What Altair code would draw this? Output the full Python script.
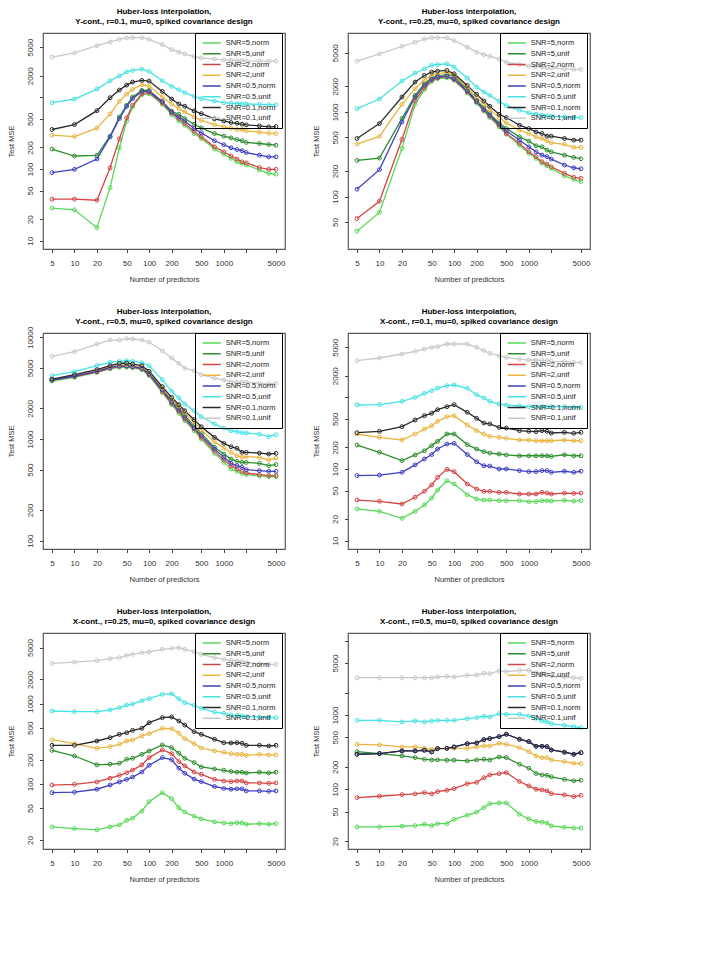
import altair as alt
import pandas as pd

FONT = "Liberation Sans"

# number of predictors on the horizontal axis
N_PRED = [5, 10, 20, 30, 40, 50, 60, 80, 100, 150, 200, 250, 300, 400, 500,
          750, 1000, 1250, 1500, 1750, 2000, 3000, 4000, 5000]

SERIES = ["SNR=5,norm", "SNR=5,unif", "SNR=2,norm", "SNR=2,unif",
          "SNR=0.5,norm", "SNR=0.5,unif", "SNR=0.1,norm", "SNR=0.1,unif"]
COLORS = ["#58d858", "#2f8f2f", "#d64545", "#eab540",
          "#3f3fc4", "#45e3e3", "#2a2a2a", "#c9c9c9"]

X_TICKS = [5, 10, 20, 50, 100, 200, 500, 1000, 2000, 5000]
X_UNLABELLED = [2000]
X_DOMAIN = [3.79, 6600]

# ---- Y-cont., r=0.1 ----
p1_snr5_norm = [28.5, 27, 15.2, 55, 198, 464, 734, 1089, 1125, 800, 574, 469, 408, 313, 267, 190, 161, 141, 126, 120, 114, 97, 87, 85]
p1_snr5_unif = [190, 152, 155, 287, 533, 774, 1011, 1251, 1251, 861, 640, 581, 506, 422, 375, 313, 287, 272, 258, 248, 235, 227, 220, 215]
p1_snr2_norm = [38, 38, 36.7, 104, 264, 516, 774, 1125, 1173, 834, 605, 506, 431, 337, 281, 204, 174, 152, 138, 126, 122, 105, 99, 99]
p1_snr2_unif = [297, 284, 371, 587, 879, 1112, 1291, 1499, 1437, 1021, 808, 696, 626, 533, 479, 417, 387, 371, 356, 356, 341, 327, 316, 313]
p1_snr05_norm = [89, 99, 138, 281, 506, 750, 958, 1211, 1211, 879, 626, 533, 469, 367, 320, 248, 218, 198, 187, 180, 170, 156, 148, 148]
p1_snr05_unif = [843, 948, 1306, 1703, 1999, 2271, 2372, 2476, 2296, 1703, 1422, 1277, 1161, 1033, 958, 889, 843, 826, 817, 808, 808, 800, 791, 791]
p1_snr01_norm = [356, 417, 653, 989, 1264, 1483, 1633, 1722, 1686, 1211, 948, 808, 750, 646, 593, 500, 469, 445, 435, 422, 413, 400, 387, 391]
p1_snr01_unif = [3631, 4168, 5270, 5930, 6457, 6740, 6810, 6810, 6457, 5445, 4645, 4266, 4040, 3710, 3556, 3407, 3336, 3300, 3265, 3265, 3230, 3196, 3196, 3196]

# ---- Y-cont., r=0.25 ----
p2_snr5_norm = [39, 65, 371, 1231, 1833, 2296, 2467, 2535, 2360, 1674, 1276, 1028, 858, 666, 546, 405, 324, 283, 247, 232, 215, 175, 160, 150]
p2_snr5_unif = [267, 285, 835, 1570, 2154, 2535, 2653, 2775, 2630, 1833, 1371, 1125, 955, 743, 637, 508, 452, 398, 387, 354, 338, 309, 290, 280]
p2_snr2_norm = [55, 88, 473, 1371, 1932, 2360, 2535, 2630, 2422, 1718, 1312, 1047, 889, 697, 556, 424, 338, 296, 258, 242, 225, 188, 169, 164]
p2_snr2_unif = [417, 513, 1231, 1884, 2399, 2723, 2826, 2956, 2748, 1932, 1475, 1253, 1065, 858, 743, 608, 556, 508, 486, 456, 432, 413, 381, 381]
p2_snr05_norm = [122, 208, 762, 1500, 2059, 2422, 2582, 2630, 2467, 1766, 1334, 1065, 914, 716, 597, 464, 387, 338, 309, 296, 277, 236, 219, 213]
p2_snr05_unif = [1094, 1422, 2317, 2875, 3237, 3573, 3638, 3705, 3384, 2512, 1968, 1718, 1570, 1334, 1188, 1047, 973, 939, 914, 898, 889, 873, 858, 858]
p2_snr01_norm = [485, 729, 1500, 2253, 2700, 2956, 3036, 3093, 2826, 2059, 1614, 1347, 1166, 939, 858, 697, 637, 582, 556, 517, 517, 486, 464, 464]
p2_snr01_unif = [3981, 4853, 5970, 6663, 7230, 7556, 7556, 7494, 6966, 5825, 5083, 4767, 4560, 4205, 3874, 3638, 3478, 3446, 3384, 3323, 3293, 3237, 3179, 3179]

# ---- Y-cont., r=0.5 ----
p3_snr5_norm = [3715, 4045, 4526, 4890, 5070, 5070, 5032, 4808, 4198, 2858, 2176, 1788, 1514, 1208, 1000, 722, 589, 507, 481, 460, 446, 433, 426, 426]
p3_snr5_unif = [3803, 4100, 4636, 5070, 5262, 5262, 5186, 5070, 4426, 3105, 2384, 2003, 1698, 1353, 1137, 828, 712, 635, 603, 589, 589, 576, 547, 560]
p3_snr2_norm = [3803, 4133, 4561, 4990, 5186, 5186, 5106, 4890, 4295, 2945, 2244, 1871, 1574, 1254, 1038, 756, 622, 547, 507, 481, 463, 446, 436, 436]
p3_snr2_unif = [3836, 4198, 4698, 5140, 5343, 5382, 5262, 5070, 4526, 3178, 2455, 2080, 1788, 1458, 1227, 942, 815, 739, 685, 660, 670, 660, 622, 650]
p3_snr05_norm = [3803, 4167, 4636, 5070, 5224, 5224, 5140, 4950, 4356, 3035, 2296, 1929, 1633, 1282, 1079, 798, 660, 576, 547, 526, 499, 488, 481, 481]
p3_snr05_unif = [4198, 4595, 5262, 5673, 5802, 5891, 5802, 5630, 5262, 3836, 2945, 2531, 2209, 1899, 1658, 1405, 1274, 1208, 1181, 1154, 1146, 1119, 1054, 1103]
p3_snr01_norm = [3890, 4295, 4808, 5262, 5550, 5594, 5460, 5262, 4636, 3275, 2572, 2176, 1899, 1550, 1321, 1038, 906, 840, 809, 739, 739, 728, 712, 722]
p3_snr01_unif = [6500, 7228, 8596, 9411, 9411, 9700, 9633, 9411, 8998, 7390, 6265, 5550, 4990, 4698, 4295, 3982, 3803, 3664, 3609, 3609, 3609, 3530, 3476, 3530]

# ---- X-cont., r=0.1 ----
p4_snr5_norm = [27.7, 25.6, 20.5, 25.6, 31.5, 39.4, 50.9, 68.7, 61.8, 43.8, 38.1, 36.9, 36.9, 36.1, 36.1, 36.1, 35.0, 35.0, 36.1, 36.1, 35.7, 36.5, 35.7, 36.1]
p4_snr5_unif = [216, 171, 131, 157, 180, 212, 243, 308, 308, 219, 190, 175, 167, 162, 157, 153, 153, 153, 153, 153, 150, 158, 153, 153]
p4_snr2_norm = [36.9, 35.4, 32.5, 40.3, 48.8, 59.8, 76.5, 98.9, 91.8, 61.8, 52.6, 48.8, 48.8, 47.2, 47.2, 44.8, 44.8, 44.8, 47.2, 46.2, 44.8, 46.2, 45.7, 46.2]
p4_snr2_unif = [308, 277, 254, 308, 361, 402, 463, 537, 555, 411, 343, 308, 286, 277, 268, 254, 254, 248, 248, 248, 248, 254, 248, 248]
p4_snr05_norm = [81, 82, 90, 114, 138, 159, 190, 223, 228, 159, 126, 111, 110, 100, 100, 95, 92, 92, 95, 95, 90, 93, 90, 93]
p4_snr05_unif = [782, 791, 880, 1000, 1137, 1239, 1350, 1455, 1486, 1336, 1089, 979, 880, 807, 782, 757, 741, 741, 741, 741, 741, 741, 725, 725]
p4_snr01_norm = [321, 336, 390, 483, 555, 598, 673, 741, 791, 618, 509, 438, 425, 381, 373, 343, 336, 332, 343, 336, 318, 325, 315, 325]
p4_snr01_unif = [3250, 3540, 4027, 4387, 4723, 4988, 5093, 5549, 5549, 5549, 4988, 4500, 4111, 3811, 3612, 3425, 3318, 3318, 3250, 3250, 3179, 3147, 3079, 3047]

# ---- X-cont., r=0.25 ----
p5_snr5_norm = [29.2, 27.8, 26.8, 29.2, 30.9, 35.3, 37.4, 46.1, 60.3, 78, 65.6, 50.7, 44.8, 39.6, 36.7, 33.7, 32.7, 32.1, 33.0, 32.7, 31.5, 32.1, 31.5, 32.1]
p5_snr5_unif = [262, 223, 173, 176, 181, 203, 209, 234, 258, 306, 283, 241, 209, 185, 163, 154, 148, 143, 140, 140, 137, 140, 137, 140]
p5_snr2_norm = [97, 99, 106, 118, 128, 138, 149, 173, 213, 265, 239, 190, 168, 141, 132, 114, 109, 107, 109, 109, 103, 103, 102, 103]
p5_snr2_unif = [356, 318, 278, 292, 312, 343, 353, 396, 423, 493, 489, 428, 367, 318, 281, 258, 248, 239, 234, 234, 227, 234, 230, 230]
p5_snr05_norm = [78, 79, 86, 97, 106, 114, 122, 141, 171, 213, 201, 157, 136, 115, 107, 93, 88, 86, 87, 87, 82, 82, 81, 82]
p5_snr05_unif = [811, 795, 795, 834, 892, 962, 990, 1090, 1154, 1306, 1331, 1154, 1028, 953, 874, 787, 758, 722, 716, 702, 689, 682, 670, 670]
p5_snr01_norm = [303, 303, 343, 377, 415, 435, 466, 493, 580, 669, 682, 608, 542, 448, 415, 360, 327, 324, 327, 321, 303, 303, 297, 303]
p5_snr01_unif = [3176, 3301, 3430, 3632, 3740, 4000, 4115, 4316, 4400, 4746, 4887, 4980, 4746, 4441, 4115, 3740, 3565, 3462, 3397, 3333, 3238, 3147, 3088, 3088]

# ---- X-cont., r=0.5 ----
p6_snr5_norm = [31.1, 31.1, 31.8, 32.4, 33.8, 32.4, 34.5, 34.5, 39.4, 44.7, 49.1, 56.7, 64.1, 65.5, 65.5, 46.1, 39.9, 36.8, 36.0, 35.3, 32.1, 30.8, 30.2, 29.9]
p6_snr5_unif = [321, 302, 281, 267, 253, 248, 248, 246, 246, 241, 248, 253, 248, 272, 267, 217, 192, 163, 156, 154, 147, 136, 130, 132]
p6_snr2_norm = [77.3, 80.5, 84.8, 86.5, 90.2, 86.5, 93.0, 97.0, 102, 119, 124, 143, 156, 162, 168, 127, 111, 100, 98, 95, 87.4, 84.0, 79.7, 83.0]
p6_snr2_unif = [403, 395, 371, 371, 356, 345, 356, 356, 356, 356, 371, 383, 383, 415, 403, 364, 321, 281, 267, 267, 248, 236, 224, 222]
p6_snr05_norm = [296, 302, 328, 328, 335, 318, 352, 356, 371, 411, 420, 466, 481, 511, 550, 471, 438, 379, 379, 375, 338, 315, 296, 311]
p6_snr05_unif = [847, 847, 805, 830, 805, 830, 847, 847, 847, 893, 921, 960, 940, 1042, 1021, 1021, 970, 902, 830, 805, 764, 726, 697, 676]
p6_snr01_norm = [296, 302, 328, 328, 335, 318, 352, 356, 371, 411, 420, 466, 481, 511, 550, 471, 438, 379, 379, 375, 338, 315, 296, 311]
p6_snr01_unif = [3177, 3177, 3177, 3177, 3177, 3177, 3244, 3312, 3244, 3418, 3450, 3636, 3598, 3907, 3828, 3990, 3990, 3714, 3598, 3450, 3350, 3244, 3177, 3111]

HEADLINE = "Huber-loss interpolation,"

# (subtitle, series columns, y domain, y ticks, unlabelled y ticks, title offset)
PANELS = [
    ("Y-cont., r=0.1, mu=0, spiked covariance design",
     [p1_snr5_norm, p1_snr5_unif, p1_snr2_norm, p1_snr2_unif,
      p1_snr05_norm, p1_snr05_unif, p1_snr01_norm, p1_snr01_unif],
     [7.66, 7907], [10, 20, 50, 100, 200, 500, 1000, 2000, 5000], [1000], 7),
    ("Y-cont., r=0.25, mu=0, spiked covariance design",
     [p2_snr5_norm, p2_snr5_unif, p2_snr2_norm, p2_snr2_unif,
      p2_snr05_norm, p2_snr05_unif, p2_snr01_norm, p2_snr01_unif],
     [24.0, 8570], [50, 100, 200, 500, 1000, 2000, 5000], [], 7),
    # the rotated "10000" label pokes above the frame, so the title sits closer
    ("Y-cont., r=0.5, mu=0, spiked covariance design",
     [p3_snr5_norm, p3_snr5_unif, p3_snr2_norm, p3_snr2_unif,
      p3_snr05_norm, p3_snr05_unif, p3_snr01_norm, p3_snr01_unif],
     [82.8, 11040], [100, 200, 500, 1000, 2000, 5000, 10000], [], 0.5),
    ("X-cont., r=0.1, mu=0, spiked covariance design",
     [p4_snr5_norm, p4_snr5_unif, p4_snr2_norm, p4_snr2_unif,
      p4_snr05_norm, p4_snr05_unif, p4_snr01_norm, p4_snr01_unif],
     [7.65, 7907], [10, 20, 50, 100, 200, 500, 1000, 2000, 5000], [1000], 7),
    ("X-cont., r=0.25, mu=0, spiked covariance design",
     [p5_snr5_norm, p5_snr5_unif, p5_snr2_norm, p5_snr2_unif,
      p5_snr05_norm, p5_snr05_unif, p5_snr01_norm, p5_snr01_unif],
     [15.5, 7587], [20, 50, 100, 200, 500, 1000, 2000, 5000], [], 7),
    ("X-cont., r=0.5, mu=0, spiked covariance design",
     [p6_snr5_norm, p6_snr5_unif, p6_snr2_norm, p6_snr2_unif,
      p6_snr05_norm, p6_snr05_unif, p6_snr01_norm, p6_snr01_unif],
     [15.7, 12680], [20, 50, 100, 200, 500, 1000, 2000, 5000, 10000], [2000, 10000], 7),
]


def label_expr(hidden):
    if not hidden:
        return "datum.label"
    return "indexof(%s, datum.value) >= 0 ? '' : datum.label" % str(hidden)


def make_panel(subtitle, columns, y_domain, y_ticks, y_hidden, title_offset):
    rows = []
    for name, vals in zip(SERIES, columns):
        assert len(vals) == len(N_PRED), (subtitle, name, len(vals))
        for p, v in zip(N_PRED, vals):
            rows.append({"p": p, "mse": v, "series": name})
    df = pd.DataFrame(rows)

    x = alt.X("p:Q",
              scale=alt.Scale(type="log", domain=X_DOMAIN, nice=False),
              axis=alt.Axis(values=X_TICKS, format="d",
                            labelExpr=label_expr(X_UNLABELLED),
                            title="Number of predictors",
                            titleY=30, titleBaseline="middle",
                            labelAlign="center", labelBaseline="middle",
                            labelPadding=10.5))
    y = alt.Y("mse:Q",
              scale=alt.Scale(type="log", domain=y_domain, nice=False),
              axis=alt.Axis(values=y_ticks, format="d",
                            labelExpr=label_expr(y_hidden),
                            title="Test MSE",
                            titleX=-31.5, titleBaseline="middle",
                            labelAngle=270, labelAlign="center",
                            labelBaseline="middle", labelPadding=9.5))
    legend = alt.Legend(
        title=None, orient="none", legendX=152, legendY=0,
        symbolType="M-0.84,0L5.73,0", symbolSize=30, symbolStrokeWidth=1.5,
        symbolOpacity=1, symbolFillColor="transparent",
        labelFont=FONT, labelFontSize=7.5, labelColor="#222222",
        labelOffset=16.9, padding=6.25, rowPadding=1.75,
        strokeColor="#000000", fillColor="transparent")
    color = alt.Color("series:N",
                      scale=alt.Scale(domain=SERIES, range=COLORS),
                      sort=SERIES, legend=legend)

    base = alt.Chart(df)
    lines = base.mark_line(strokeWidth=1.3, opacity=1).encode(x=x, y=y, color=color)
    points = base.mark_point(shape="circle", filled=False, size=15,
                             strokeWidth=1.0, opacity=1).encode(x=x, y=y, color=color)
    return alt.layer(lines, points).properties(
        width=242, height=216,
        title=alt.TitleParams(text=[HEADLINE, subtitle], fontSize=8,
                              fontWeight="bold", font=FONT, color="#000000",
                              anchor="middle", frame="group", offset=title_offset,
                              lineHeight=9.5),
    )


panels = [make_panel(*spec) for spec in PANELS]

chart = (
    alt.concat(*panels, columns=2, spacing={"row": 84, "column": 63}, bounds="flush")
    .resolve_scale(color="independent")
    .properties(padding={"left": 6, "top": 7, "right": 10, "bottom": 10},
                background="white")
    .configure(font=FONT)
    .configure_view(stroke="#5a5a5a", strokeWidth=1.2)
    .configure_axis(domain=False, grid=False, tickSize=3.5, tickColor="#444444",
                    tickWidth=1, labelFont=FONT, labelFontSize=8,
                    labelColor="#333333", titleFont=FONT, titleFontSize=7.5,
                    titleFontWeight="normal", titleColor="#333333",
                    labelFlush=False, labelOverlap=False)
)

chart.save("out.html", embed_options={"renderer": "svg", "actions": False})
